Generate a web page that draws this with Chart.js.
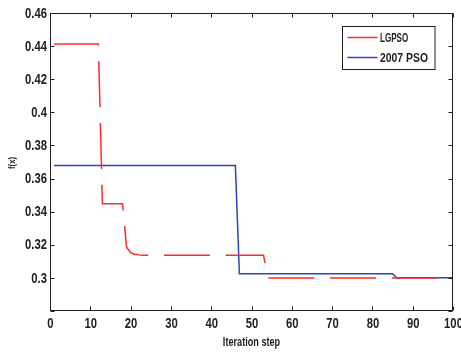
<!DOCTYPE html>
<html>
<head>
<meta charset="utf-8">
<script src="https://cdn.jsdelivr.net/npm/chart.js@4.4.1/dist/chart.umd.min.js"></script>
<style>
  html, body { margin: 0; padding: 0; background: #ffffff; }
  #wrap { width: 461px; height: 353px; position: relative; }
</style>
</head>
<body>
<div id="wrap"><canvas id="c" width="461" height="353"></canvas></div>
<script>
// ---- data ----
const iterations = Array.from({length: 100}, (_, i) => i + 1);
const lgpsoValues = [
  0.4413,0.4413,0.4413,0.4413,0.4413,0.4413,0.4413,0.4413,0.4413,0.4413,
  0.4413,0.4413,0.3448,0.3448,0.3448,0.3448,0.3448,0.3448,0.3185,0.3152,
  0.3143,0.3139,0.3137,0.3137,0.3137,0.3137,0.3137,0.3137,0.3137,0.3137,
  0.3137,0.3137,0.3137,0.3137,0.3137,0.3137,0.3137,0.3137,0.3137,0.3137,
  0.3137,0.3137,0.3137,0.3137,0.3137,0.3137,0.3137,0.3137,0.3137,0.3137,
  0.3137,0.3137,0.3137,0.3000,0.3000,0.3000,0.3000,0.3000,0.3000,0.3000,
  0.3000,0.3000,0.3000,0.3000,0.3000,0.3000,0.3000,0.3000,0.3000,0.3000,
  0.3000,0.3000,0.3000,0.3000,0.3000,0.3000,0.3000,0.3000,0.3000,0.3000,
  0.3000,0.3000,0.3000,0.3000,0.3000,0.3000,0.3000,0.3000,0.3000,0.3000,
  0.3000,0.3000,0.3000,0.3000,0.3000,0.3000,0.3000,0.3000,0.3000,0.3000
];
const pso2007Values = [
  0.3679,0.3679,0.3679,0.3679,0.3679,0.3679,0.3679,0.3679,0.3679,0.3679,
  0.3679,0.3679,0.3679,0.3679,0.3679,0.3679,0.3679,0.3679,0.3679,0.3679,
  0.3679,0.3679,0.3679,0.3679,0.3679,0.3679,0.3679,0.3679,0.3679,0.3679,
  0.3679,0.3679,0.3679,0.3679,0.3679,0.3679,0.3679,0.3679,0.3679,0.3679,
  0.3679,0.3679,0.3679,0.3679,0.3679,0.3679,0.3025,0.3025,0.3025,0.3025,
  0.3025,0.3025,0.3025,0.3025,0.3025,0.3025,0.3025,0.3025,0.3025,0.3025,
  0.3025,0.3025,0.3025,0.3025,0.3025,0.3025,0.3025,0.3025,0.3025,0.3025,
  0.3025,0.3025,0.3025,0.3025,0.3025,0.3025,0.3025,0.3025,0.3025,0.3025,
  0.3025,0.3025,0.3025,0.3025,0.3025,0.3001,0.3001,0.3001,0.3001,0.3001,
  0.3001,0.3001,0.3001,0.3001,0.3001,0.3001,0.3001,0.3001,0.3001,0.3001
];
const seriesNames = ['LGPSO', '2007 PSO'];
const xAxisTitle = 'Iteration step';
const yAxisTitle = 'f(x)';
const xTicks = [0, 10, 20, 30, 40, 50, 60, 70, 80, 90, 100];
const yTicks = [0.28, 0.30, 0.32, 0.34, 0.36, 0.38, 0.40, 0.42, 0.44, 0.46];
const yTickLabels = ['', '0.3', '0.32', '0.34', '0.36', '0.38', '0.4', '0.42', '0.44', '0.46'];

// ---- styling ----
const FONT = "'Liberation Sans', Arial, sans-serif";
const RED = '#ff2a2a';
const BLUE = '#2a46b8';
const INK = '#1e1e1e';

const toXY = (vals) => vals.map((v, i) => ({x: iterations[i], y: v}));

// draws text compressed horizontally (the reference uses a condensed face)
function condensedText(ctx, text, x, y, align, sx, font, rot) {
  ctx.save();
  ctx.font = font;
  ctx.fillStyle = INK;
  ctx.textAlign = align;
  ctx.textBaseline = 'middle';
  ctx.translate(x, y);
  if (rot) ctx.rotate(rot);
  ctx.scale(sx, 1);
  ctx.fillText(text, 0, 0);
  ctx.restore();
}

const boxPlugin = {
  id: 'matlabBox',
  afterDraw(chart) {
    const {ctx, chartArea: a, scales} = chart;
    ctx.save();
    ctx.setLineDash([]);
    ctx.strokeStyle = INK;
    ctx.lineWidth = 1;
    const L = Math.round(a.left) + 0.5, R = Math.round(a.right) - 0.5;
    const T = Math.round(a.top) + 0.5, B = Math.round(a.bottom) - 0.5;
    ctx.strokeRect(L, T, R - L, B - T);
    const tl = 4;
    ctx.beginPath();
    xTicks.forEach(v => {
      const px = Math.round(scales.x.getPixelForValue(v)) + 0.5;
      ctx.moveTo(px, B); ctx.lineTo(px, B - tl);
      ctx.moveTo(px, T); ctx.lineTo(px, T + tl);
    });
    yTicks.forEach(v => {
      const py = Math.round(scales.y.getPixelForValue(v)) + 0.5;
      ctx.moveTo(L, py); ctx.lineTo(L + tl, py);
      ctx.moveTo(R, py); ctx.lineTo(R - tl, py);
    });
    ctx.stroke();

    // tick labels
    const tickFont = 'bold 15px ' + FONT;
    xTicks.forEach(v => {
      condensedText(ctx, String(v), scales.x.getPixelForValue(v) + 0.5, B + 13, 'center', 0.75, tickFont);
    });
    yTicks.forEach((v, i) => {
      condensedText(ctx, yTickLabels[i], L - 3.5, scales.y.getPixelForValue(v) + 0.5, 'right', 0.75, tickFont);
    });
    // axis titles
    condensedText(ctx, xAxisTitle, (a.left + a.right) / 2, 343, 'center', 0.76, 'bold 12px ' + FONT);
    condensedText(ctx, yAxisTitle, 13, (a.top + a.bottom) / 2 + 1, 'center', 0.85, 'bold 9px ' + FONT, -Math.PI / 2);

    // legend (from dataset labels/colours)
    const lx = 342.5, ly = 26.5, lw = 92.5, lh = 43;
    ctx.fillStyle = '#ffffff';
    ctx.fillRect(lx, ly, lw, lh);
    ctx.strokeStyle = INK;
    ctx.lineWidth = 1;
    ctx.strokeRect(lx, ly, lw, lh);
    chart.data.datasets.forEach((ds, i) => {
      const yy = ly + 11 + i * 20;
      ctx.strokeStyle = ds.borderColor;
      ctx.lineWidth = 1.5;
      ctx.beginPath();
      ctx.moveTo(lx + 5, yy);
      ctx.lineTo(lx + 35, yy);
      ctx.stroke();
      condensedText(ctx, ds.label, lx + 37.5, yy + 0.5, 'left', i === 0 ? 0.62 : 0.8, 'bold 13px ' + FONT);
    });
    ctx.restore();
  }
};

new Chart(document.getElementById('c'), {
  type: 'line',
  data: {
    datasets: [
      {
        label: seriesNames[0],
        data: toXY(lgpsoValues),
        borderColor: RED,
        borderWidth: 1.5,
        borderDash: [46, 15.7],
        pointRadius: 0,
        fill: false,
        tension: 0
      },
      {
        label: seriesNames[1],
        data: toXY(pso2007Values),
        borderColor: BLUE,
        borderWidth: 1.5,
        pointRadius: 0,
        fill: false,
        tension: 0
      }
    ]
  },
  options: {
    responsive: false,
    animation: false,
    layout: { padding: { top: 13, right: 8, left: 0, bottom: 0 } },
    plugins: {
      legend: { display: false },
      tooltip: { enabled: false }
    },
    scales: {
      x: {
        type: 'linear',
        min: 0, max: 100,
        afterFit(s) { s.height = 42; s.paddingLeft = 0; s.paddingRight = 0; },
        afterBuildTicks(s) { s.ticks = xTicks.map(v => ({value: v})); },
        grid: { display: false, drawTicks: false },
        border: { display: false },
        ticks: { display: false },
        title: { display: false }
      },
      y: {
        type: 'linear',
        min: 0.28, max: 0.46,
        afterFit(s) { s.width = 50; s.paddingTop = 0; s.paddingBottom = 0; },
        afterBuildTicks(s) { s.ticks = yTicks.map(v => ({value: v})); },
        grid: { display: false, drawTicks: false },
        border: { display: false },
        ticks: { display: false },
        title: { display: false }
      }
    }
  },
  plugins: [boxPlugin]
});
</script>
</body>
</html>
